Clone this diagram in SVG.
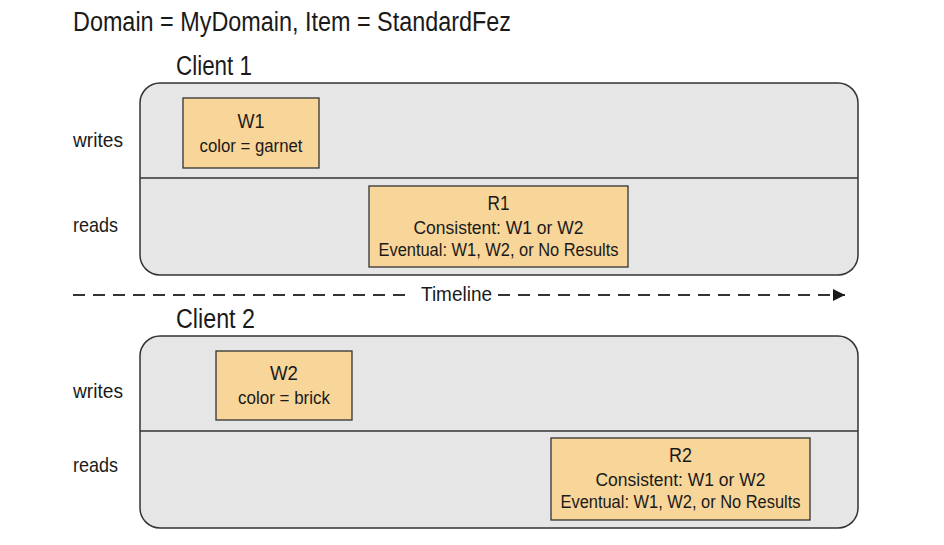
<svg xmlns="http://www.w3.org/2000/svg" width="944" height="545" viewBox="0 0 944 545">
<defs>
<style>
text{font-family:"Liberation Sans",Arial,sans-serif;fill:#1a1a1a}
.big{font-size:27px}
.lab{font-size:21px}
.h{font-size:21px;text-anchor:middle}
.hr{font-size:20px;text-anchor:middle}
.s{font-size:17.5px;text-anchor:middle}
.panel{fill:#e6e6e6;stroke:#333;stroke-width:1.5}
.div{stroke:#333;stroke-width:1.5}
.box{fill:#f8d599;stroke:#333;stroke-width:1.3}
.dash{stroke:#333;stroke-width:2;stroke-dasharray:12,8;fill:none}
</style>
<marker id="arr" viewBox="0 0 10 10" refX="10" refY="5" markerWidth="12" markerHeight="12" markerUnits="userSpaceOnUse" orient="auto"><path d="M0,0 L10,5 L0,10 z" fill="#1a1a1a"/></marker>
</defs>
<rect width="944" height="545" fill="#fff"/>
<text class="big" x="73" y="31" textLength="438" lengthAdjust="spacingAndGlyphs">Domain = MyDomain, Item = StandardFez</text>
<g id="client1">
<text class="big" x="176" y="75" textLength="76" lengthAdjust="spacingAndGlyphs">Client 1</text>
<rect class="panel" x="140" y="83" width="718" height="192" rx="20"/>
<line class="div" x1="140" y1="178" x2="858" y2="178"/>
<text class="lab" x="73" y="147" textLength="50" lengthAdjust="spacingAndGlyphs">writes</text>
<text class="lab" x="73" y="232" textLength="45" lengthAdjust="spacingAndGlyphs">reads</text>
</g>
<g id="W1">
<rect class="box" x="183" y="98" width="136" height="70"/>
<text class="h" x="251" y="128" textLength="27" lengthAdjust="spacingAndGlyphs">W1</text>
<text class="s" x="251" y="152" textLength="103" lengthAdjust="spacingAndGlyphs">color = garnet</text>
</g>
<g id="R1">
<rect class="box" x="369" y="186" width="259" height="81"/>
<text class="hr" x="498.5" y="210" textLength="22" lengthAdjust="spacingAndGlyphs">R1</text>
<text class="s" x="498.5" y="234" textLength="170" lengthAdjust="spacingAndGlyphs">Consistent: W1 or W2</text>
<text class="s" x="498.5" y="256" textLength="240" lengthAdjust="spacingAndGlyphs">Eventual: W1, W2, or No Results</text>
</g>
<g id="connectors">
<line class="dash" x1="73" y1="295" x2="412" y2="295"/>
<line class="dash" x1="498" y1="295" x2="845" y2="295" marker-end="url(#arr)"/>
</g>
<text x="421" y="301" style="font-size:20px" textLength="71" lengthAdjust="spacingAndGlyphs">Timeline</text>
<g id="client2">
<text class="big" x="176" y="328" textLength="79" lengthAdjust="spacingAndGlyphs">Client 2</text>
<rect class="panel" x="140" y="336" width="718" height="192" rx="20"/>
<line class="div" x1="140" y1="431" x2="858" y2="431"/>
<text class="lab" x="73" y="398" textLength="50" lengthAdjust="spacingAndGlyphs">writes</text>
<text class="lab" x="73" y="472" textLength="45" lengthAdjust="spacingAndGlyphs">reads</text>
</g>
<g id="W2">
<rect class="box" x="216" y="351" width="136" height="69"/>
<text class="h" x="284" y="380" textLength="28" lengthAdjust="spacingAndGlyphs">W2</text>
<text class="s" x="284" y="404" textLength="92" lengthAdjust="spacingAndGlyphs">color = brick</text>
</g>
<g id="R2">
<rect class="box" x="551" y="438" width="259" height="82"/>
<text class="hr" x="680.5" y="462" textLength="23" lengthAdjust="spacingAndGlyphs">R2</text>
<text class="s" x="680.5" y="486" textLength="170" lengthAdjust="spacingAndGlyphs">Consistent: W1 or W2</text>
<text class="s" x="680.5" y="508" textLength="240" lengthAdjust="spacingAndGlyphs">Eventual: W1, W2, or No Results</text>
</g>
</svg>
